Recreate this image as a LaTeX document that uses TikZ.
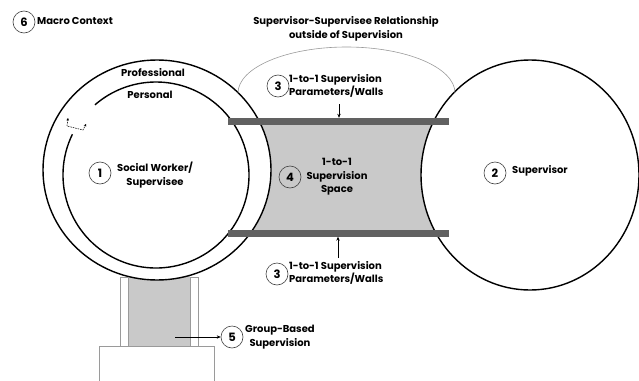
\documentclass[tikz,border=0pt]{standalone}
\usepackage{fontspec}
\setmainfont{Poppins}
\usetikzlibrary{arrows.meta}
\definecolor{spacegray}{HTML}{C9C9C9}
\definecolor{wallgray}{HTML}{616161}
\definecolor{thingray}{HTML}{9A9A9A}
\tikzset{
  num/.style={circle, draw=black!75, line width=0.6pt, minimum size=22pt, inner sep=0pt,
    font=\bfseries\fontsize{11.5}{11.5}\selectfont},
  lbl/.style={font=\bfseries\fontsize{10}{13.5}\selectfont, align=center, inner sep=1pt},
  ring/.style={draw=black, line width=1.4pt},
  wall/.style={fill=wallgray, draw=none, minimum width=221pt, minimum height=7pt, inner sep=0pt},
  pillar/.style={fill=white, draw=thingray, line width=0.6pt, minimum width=8pt, minimum height=69pt, inner sep=0pt},
  arr/.style={line width=0.6pt, -{Stealth[length=4pt,width=3.4pt]}}
}
\begin{document}
\begin{tikzpicture}[x=1pt, y=-1pt]
\useasboundingbox (0,0) rectangle (639,380);

% shaded areas: one-to-one space and group space
\fill[spacegray] (250,121) rectangle (440,233);
\fill[spacegray] (128,262) rectangle (190,346);

% supervisee (outer ring) and supervisor
\draw[ring, fill=white] (157,170) ellipse [x radius=114, y radius=110];
\draw[ring, fill=white] (530,175) ellipse [x radius=109, y radius=115];

% personal ring, open at the upper left (y axis points down, so angles run clockwise)
\draw[ring] (156,175) ++(-154:93) arc [start angle=-154, end angle=-491, radius=93];

% switching glyph between the rings
\coordinate (g1) at (68,118);
\coordinate (g2) at (67,126);
\coordinate (g3) at (83,130);
\coordinate (g4) at (86,124);
\draw[line width=0.6pt, dashed, dash pattern=on 1.5pt off 1pt, {Stealth[length=2.5pt,width=2.5pt]}-{Stealth[length=2.5pt,width=2.5pt]}] (g1) -- (g2) -- (g3) -- (g4);

% relationship outside of supervision
\draw[thingray, line width=0.6pt] (238,93) arc [start angle=180, end angle=360, x radius=108.5, y radius=46];

% walls of the one-to-one space
\node[wall] (wtop) at (338.5,121.5) {};
\node[wall] (wbot) at (338.5,233) {};

% group-based supervision
\node[pillar] (pl) at (124,311.5) {};
\node[pillar] (pr) at (194,311.5) {};
\draw[thingray, line width=0.6pt] (99,381) -- (99,346) -- (214,346) -- (214,381);

% labels
\node[num] (n6) at (24,22) {6};
\node[lbl, anchor=west] (macro) at (36,21) {Macro Context};
\node[lbl] (rel) at (346,29) {Supervisor-Supervisee Relationship\\outside of Supervision};
\node[lbl] (prof) at (153,73) {Professional};
\node[lbl] (pers) at (150,95) {Personal};
\node[num] (n1) at (100,173) {1};
\node[lbl] (sw) at (155,175) {Social Worker/\\Supervisee};
\node[num] (n2) at (495,173) {2};
\node[lbl, anchor=west] (sup) at (511,171) {Supervisor};
\node[num] (n3a) at (278,86) {3};
\node[lbl, anchor=west, align=left] (wa) at (288,86) {1-to-1 Supervision\\Parameters/Walls};
\node[num] (n3b) at (277,274) {3};
\node[lbl, anchor=west, align=left] (wb) at (288,273) {1-to-1 Supervision\\Parameters/Walls};
\node[num] (n4) at (290,177) {4};
\node[lbl] (space) at (337,177) {1-to-1\\Supervision\\Space};
\node[num] (n5) at (232,337) {5};
\node[lbl] (grp) at (280,337) {Group-Based\\Supervision};

% pointers
\coordinate (ta) at (339,104);
\coordinate (tb) at (338,258);
\coordinate (tg) at (175,337);
\draw[arr] (ta) -- (ta |- wtop.north);
\draw[arr] (tb) -- (tb |- wbot.south);
\draw[arr] (tg) -- (n5.west);
\end{tikzpicture}
\end{document}
